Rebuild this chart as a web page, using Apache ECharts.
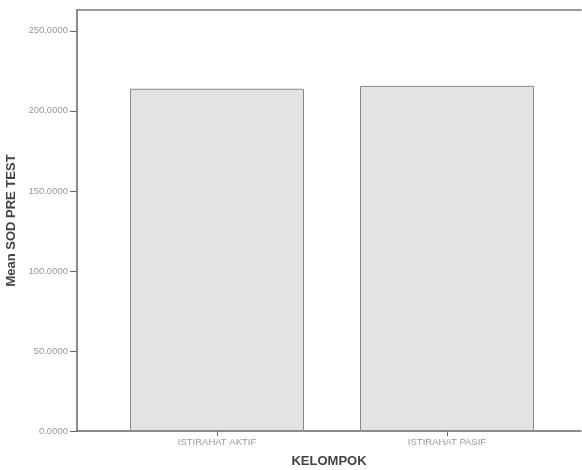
<!DOCTYPE html>
<html><head><meta charset="utf-8">
<script src="https://cdn.jsdelivr.net/npm/echarts@6/dist/echarts.min.js"></script>
<style>html,body{margin:0;padding:0;background:#fff}#c{width:582px;height:470px}</style>
</head><body><div id="c"></div>
<script>
var categories = ['ISTIRAHAT AKTIF', 'ISTIRAHAT PASIF'];
var meanValues = [213.8, 215.6];
var yTicks = [0, 50, 100, 150, 200, 250];

var chart = echarts.init(document.getElementById('c'));
chart.setOption({
  animation: false,
  grid: {left: 77, right: 1, top: 10, bottom: 39, containLabel: false, outerBoundsMode: 'none'},
  xAxis: [{
    type: 'value', min: -0.6087, max: 1.5826,
    name: 'KELOMPOK', nameLocation: 'middle', nameGap: 24,
    nameTextStyle: {fontFamily: 'Liberation Sans', fontWeight: 'bold', fontSize: 13, color: '#444'},
    axisLine: {show: true, onZero: false, lineStyle: {color: '#666', width: 1.5}},
    axisTick: {show: true, customValues: [0, 1], length: 5, lineStyle: {color: '#666'}},
    axisLabel: {customValues: [0, 1], formatter: function (v) { return categories[Math.round(v)]; },
      fontFamily: 'Liberation Sans', fontSize: 9.5, color: '#999', margin: 6},
    splitLine: {show: false}
  }, {
    type: 'value', position: 'top', min: 0, max: 1,
    axisLine: {show: true, onZero: false, lineStyle: {color: '#777', width: 1.5}},
    axisTick: {show: false}, axisLabel: {show: false}, splitLine: {show: false}
  }],
  yAxis: [{
    type: 'value', position: 'left', min: 0, max: 263, interval: 50,
    name: 'Mean SOD PRE TEST', nameLocation: 'middle', nameGap: 57, nameRotate: 90,
    nameTextStyle: {fontFamily: 'Liberation Sans', fontWeight: 'bold', fontSize: 13, color: '#444'},
    axisLine: {show: true, onZero: false, lineStyle: {color: '#666', width: 1.5}},
    axisTick: {show: true, customValues: yTicks, length: 7, lineStyle: {color: '#666'}},
    axisLabel: {customValues: yTicks, formatter: function (v) { return v.toFixed(4); },
      fontFamily: 'Liberation Sans', fontSize: 9.5, color: '#999', margin: 9},
    splitLine: {show: false}
  }],
  series: [{
    type: 'bar', xAxisIndex: 0, yAxisIndex: 0,
    barWidth: 174,
    data: meanValues.map(function (v, i) { return [i, v]; }),
    itemStyle: {color: '#e3e3e3', borderColor: '#888', borderWidth: 1}
  }]
});
</script></body></html>
